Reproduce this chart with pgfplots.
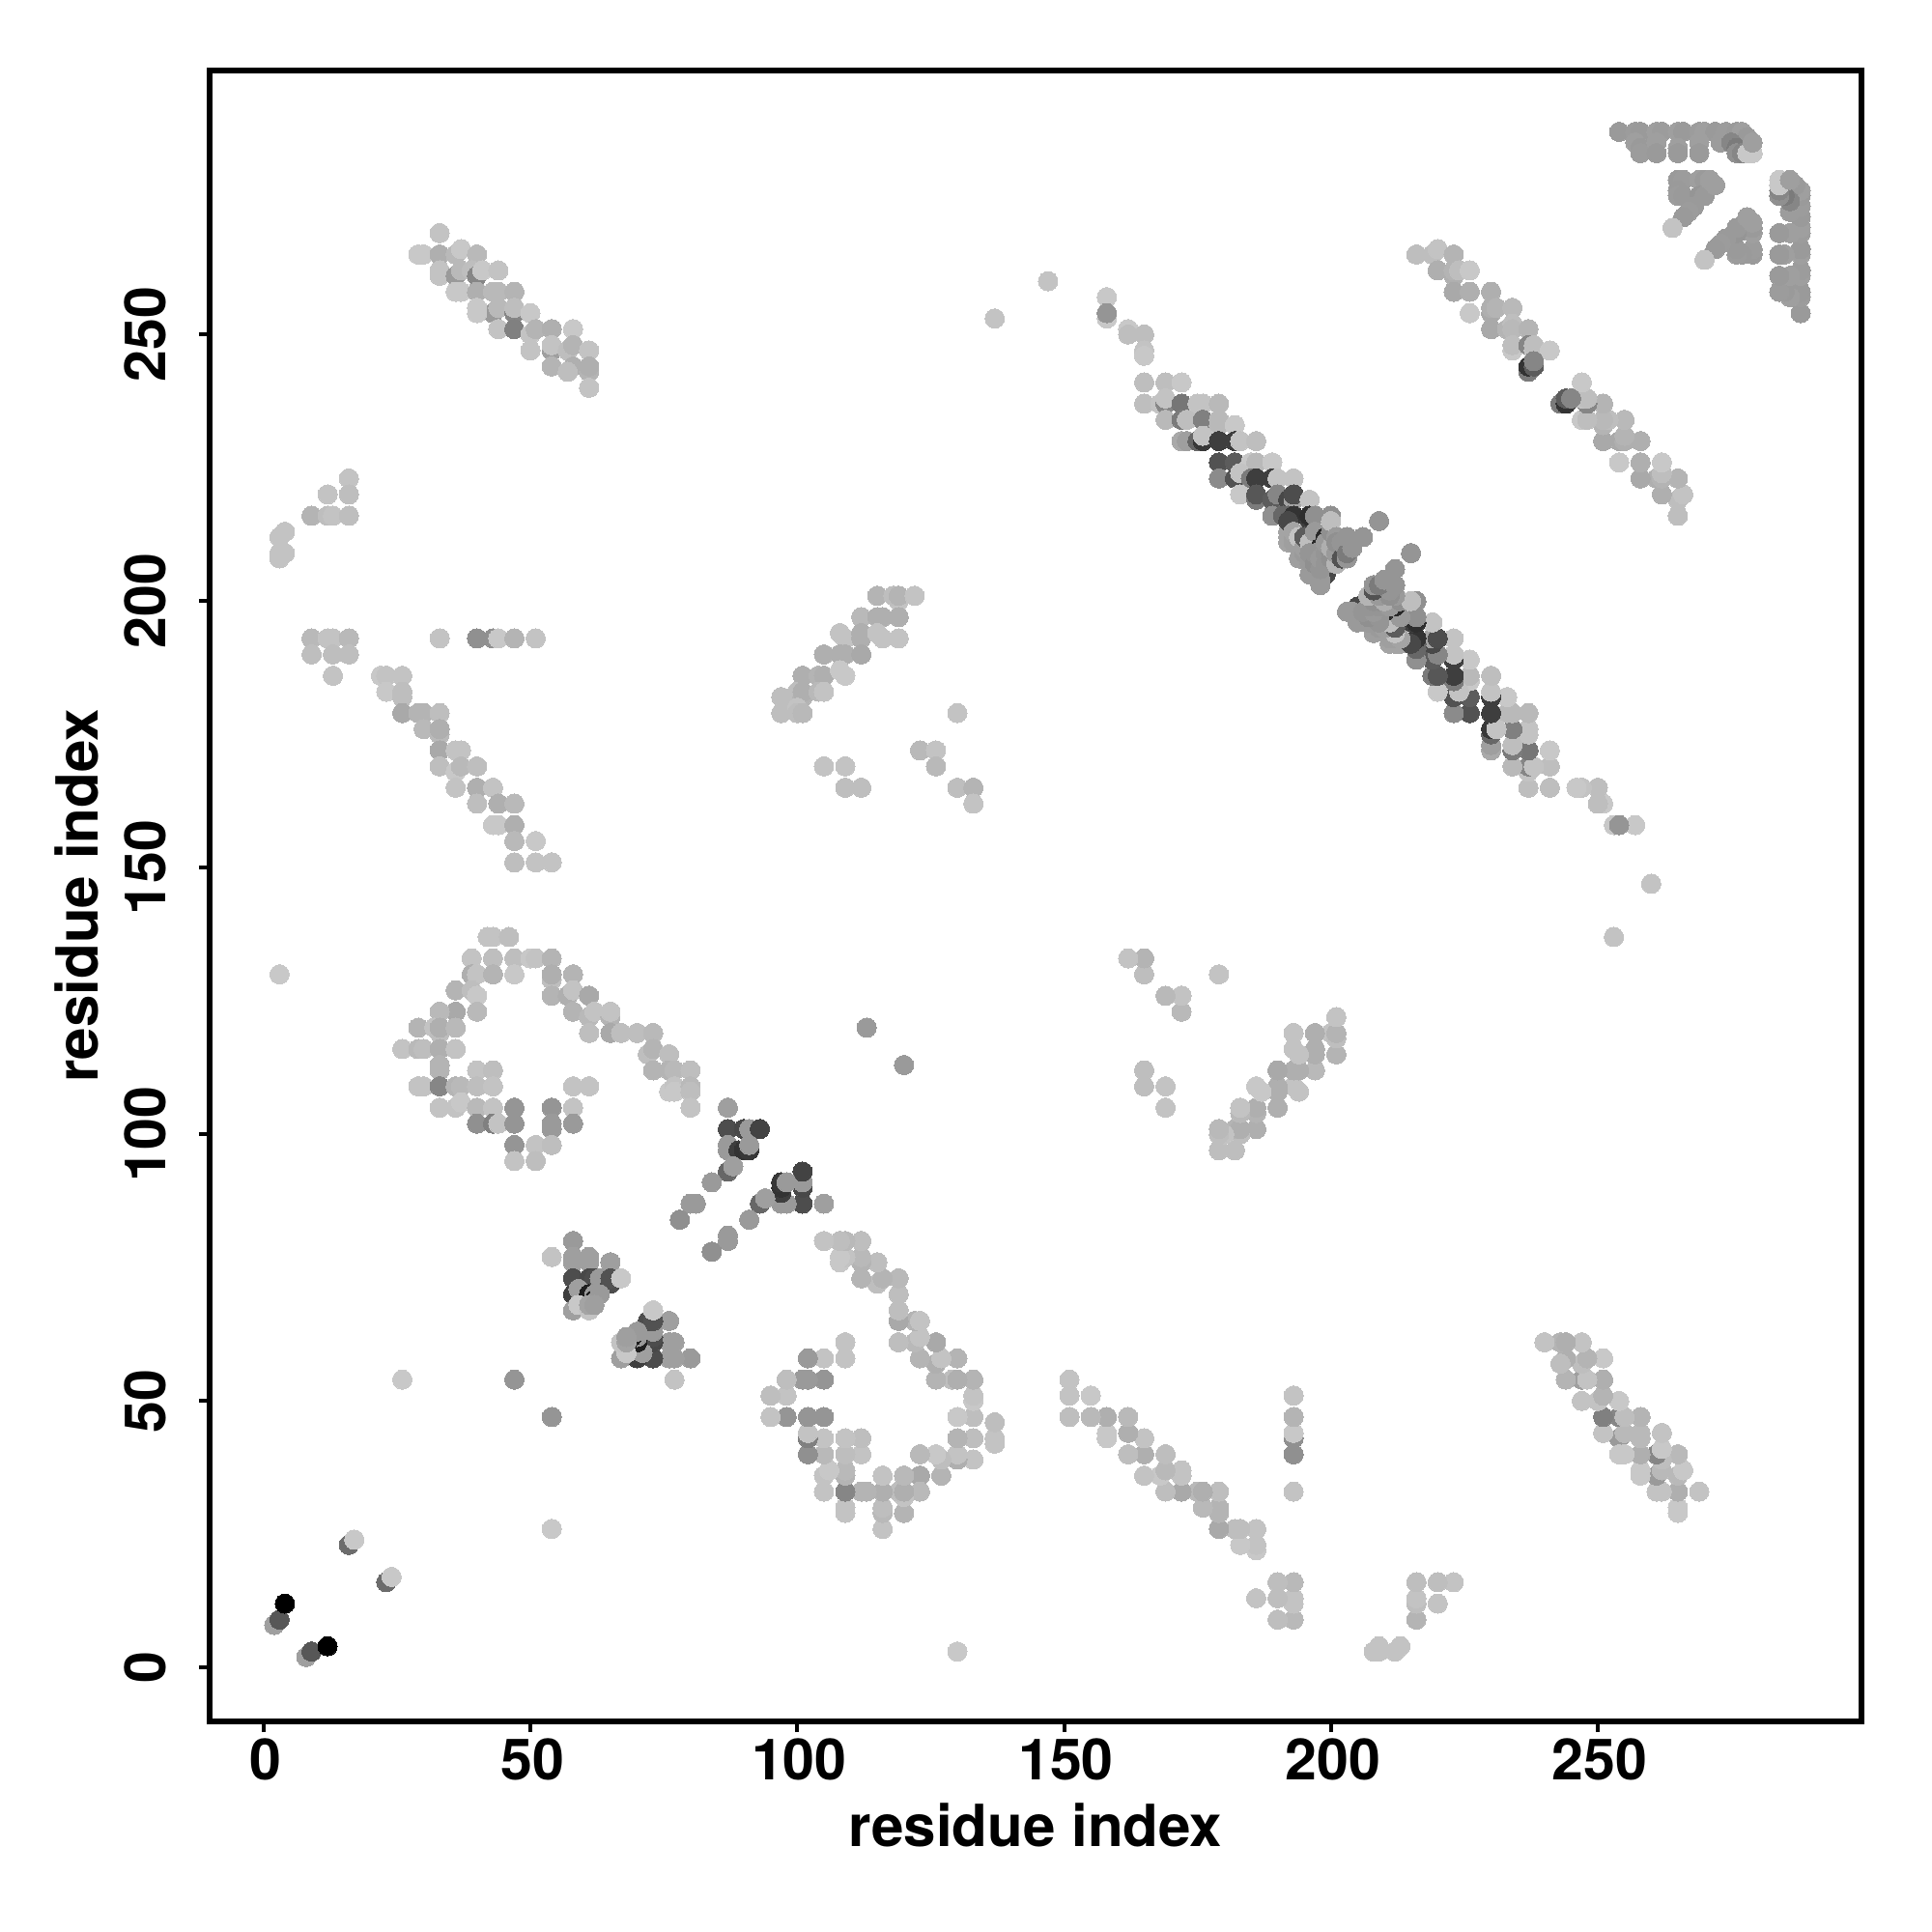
\documentclass[border=0pt]{standalone}
\usepackage{pgfplots}
\usepackage{pgfplotstable}
\usepackage{fontspec}
\setmainfont{TeX Gyre Heros}
\pgfplotsset{compat=1.18}
\pgfplotstableread{
a b g
2 8 155
3 9 85
4 12 0
16 23 105
17 24 195
33 269 190
29 265 195
30 265 195
33 265 170
36 265 180
37 266 195
40 265 180
33 262 190
33 261 190
36 261 150
37 262 180
39 262 185
40 261 130
41 262 195
44 262 190
36 258 195
37 258 195
40 258 170
43 258 180
44 258 180
47 258 175
43 254 150
44 255 180
47 254 130
47 255 185
40 255 195
40 254 195
44 251 190
47 251 125
50 254 195
50 250 190
51 251 175
50 247 190
54 251 170
54 247 155
54 248 190
54 244 175
58 251 195
57 247 185
58 248 175
58 244 170
57 243 185
61 247 190
61 243 175
61 244 170
61 240 190
16 223 190
16 220 185
12 220 190
9 216 175
12 216 185
13 216 190
16 216 185
3 212 190
4 213 190
3 208 190
3 209 190
4 209 190
9 193 180
12 193 190
13 193 190
16 193 180
9 190 185
13 190 185
16 190 185
13 186 190
33 193 190
40 193 140
43 193 140
44 193 195
47 193 175
51 193 190
22 186 195
23 186 190
26 186 190
23 183 195
26 183 185
26 182 185
26 179 165
29 179 175
30 179 175
33 179 185
30 176 180
33 175 180
33 176 170
33 172 165
36 172 190
37 172 190
33 169 185
36 168 195
37 169 180
40 169 185
36 165 190
40 165 170
43 165 190
40 162 185
44 162 170
47 162 180
43 158 195
44 158 195
47 158 170
47 155 180
51 155 195
47 151 185
51 151 190
54 151 190
42 137 190
43 137 190
46 137 185
39 133 190
43 133 185
47 133 185
50 133 195
51 133 190
54 133 175
39 130 170
40 130 190
43 130 175
47 130 195
54 129 185
54 130 170
58 130 175
36 127 175
39 127 185
40 126 195
54 126 175
57 126 170
58 127 190
61 126 165
40 123 180
36 123 165
33 123 180
58 123 175
61 122 180
62 123 190
65 122 175
65 123 190
29 120 175
32 120 190
33 119 185
33 120 170
36 120 180
61 119 185
65 119 165
67 119 185
70 119 185
73 119 180
26 116 190
29 116 180
30 116 185
33 116 170
36 116 190
72 115 185
73 116 175
76 115 185
33 113 175
33 112 175
40 112 190
43 112 185
73 112 175
76 112 175
77 112 180
80 112 185
29 109 190
30 109 190
33 109 130
36 109 175
37 109 180
40 109 185
43 109 190
58 109 190
61 109 190
76 108 195
77 109 190
77 108 195
80 109 180
80 108 185
80 105 190
33 105 190
36 105 190
37 106 195
40 105 180
43 105 190
47 105 145
54 105 145
58 105 190
40 102 140
43 102 125
44 102 190
47 102 145
54 102 150
54 101 150
58 102 150
47 98 145
51 98 190
54 98 185
47 95 190
51 95 185
87 105 155
87 101 75
90 101 70
91 101 150
93 101 65
87 98 150
87 97 150
89 97 60
90 97 50
91 97 55
91 98 150
87 93 100
88 94 155
84 91 150
80 87 150
81 87 150
78 84 140
58 80 150
54 77 190
58 77 155
58 76 155
61 77 155
61 76 155
65 76 155
58 73 75
61 73 70
62 73 75
63 73 150
65 72 75
65 73 80
67 73 195
58 70 60
59 71 155
61 70 30
62 70 150
62 69 30
63 70 150
58 67 155
59 68 195
61 67 190
61 68 160
62 68 155
119 200 190
115 201 175
118 201 185
119 201 175
122 201 190
112 197 180
115 197 170
116 197 170
119 197 170
108 194 190
109 193 190
112 194 170
112 193 170
115 194 190
116 193 190
119 193 190
105 190 170
108 190 170
109 190 170
112 190 165
101 186 170
104 186 175
105 186 170
108 187 195
109 186 195
97 182 185
100 183 185
101 182 175
101 183 170
104 183 180
105 183 190
97 179 185
100 180 190
100 179 185
101 179 180
130 179 190
123 172 180
126 172 190
126 169 180
105 169 190
109 169 190
109 165 185
112 165 185
130 165 185
133 165 175
133 162 190
113 120 150
3 130 195
26 54 195
47 54 145
137 253 190
147 260 190
158 257 195
158 253 195
158 254 145
162 251 195
162 250 185
165 250 185
165 247 190
165 246 195
165 241 185
169 241 185
172 241 195
165 237 185
168 237 190
169 237 130
169 238 190
172 237 115
175 237 190
176 237 190
179 237 180
169 234 180
172 234 120
173 234 185
176 234 125
179 233 180
179 234 180
182 233 195
172 230 165
173 230 155
175 230 100
176 230 55
176 231 190
179 230 60
182 230 60
183 230 190
186 230 185
179 226 80
182 226 90
185 226 195
186 226 180
189 226 195
179 223 135
182 223 80
183 224 190
185 223 120
186 223 60
189 223 60
190 223 190
193 223 190
183 220 195
186 219 120
186 220 85
189 219 90
190 220 130
192 219 70
193 219 160
193 220 75
196 219 190
189 216 140
191 216 100
192 216 100
193 216 50
196 215 60
196 216 45
197 216 140
200 216 140
209 215 145
192 211 160
192 212 160
192 213 160
192 215 70
193 211 155
193 212 155
193 213 160
194 208 155
194 212 190
195 208 155
195 209 150
195 210 155
195 212 90
196 207 150
196 211 185
197 205 150
197 208 150
197 210 185
197 213 150
198 207 40
198 209 40
198 210 40
199 205 70
199 208 40
199 212 40
200 212 40
196 205 150
196 209 145
197 206 150
197 207 140
197 209 145
198 203 150
198 204 150
198 206 145
198 208 150
199 207 145
199 209 145
199 211 150
200 208 140
200 209 140
200 210 170
200 213 140
200 215 185
201 207 175
201 209 150
201 212 150
201 211 140
202 208 80
203 208 145
202 211 145
203 209 120
204 210 145
203 212 145
206 212 145
216 265 185
219 265 185
220 266 190
223 265 175
220 262 170
223 261 170
223 262 175
224 262 185
226 262 195
223 258 165
226 258 170
230 258 170
226 254 195
230 254 165
230 255 170
231 255 175
234 255 180
230 251 165
233 251 175
234 252 185
234 251 180
237 251 175
234 247 195
234 248 185
237 248 130
238 247 190
238 248 185
241 247 195
237 243 120
237 244 50
238 244 90
238 245 130
254 288 150
257 288 152
258 288 150
261 288 155
262 288 152
265 288 155
266 288 150
269 288 152
270 288 155
272 288 150
274 288 152
276 288 150
277 288 155
278 287 150
257 286 155
258 285 150
258 284 152
261 286 155
261 284 150
265 285 155
265 284 150
269 286 155
269 284 150
273 286 152
275 286 130
276 285 120
276 284 140
277 284 130
278 284 195
279 284 195
279 286 155
265 279 150
266 279 152
265 277 150
265 276 152
266 276 150
269 279 155
270 279 150
269 276 145
270 276 150
271 279 155
272 278 155
268 274 150
267 273 152
266 272 150
264 270 190
}\pts
\begin{document}
\begin{tikzpicture}
\useasboundingbox (-2.17,-2.18) rectangle (17.83,17.82);
\begin{axis}[
  at={(0,0)}, anchor=south west,
  scale only axis, width=17.1cm, height=17.09cm,
  xmin=-10.1, xmax=299.4, ymin=-10.1, ymax=299.5,
  axis line style={line width=0.6mm, black},
  xtick={0,50,100,150,200,250}, ytick={0,50,100,150,200,250},
  tick style={line width=0.4mm, black},
  tick align=outside, tickpos=left, major tick length=1.1mm,
  /pgf/number format/assume math mode=true,
  ticklabel style={font=\fontsize{16.8}{18}\selectfont\bfseries},
  xticklabel style={yshift=0.06cm, xshift=0.02cm},
  yticklabel style={rotate=90, anchor=center, yshift=0.56cm},
  xlabel={residue index}, ylabel={residue index},
  label style={font=\fontsize{17.1}{19}\selectfont\bfseries},
  xlabel style={at={(axis description cs:0.5,0)}, anchor=center, yshift=-1.07cm},
  ylabel style={at={(axis description cs:0,0.5)}, anchor=center, yshift=1.38cm},
  colormap={gr}{gray(0cm)=(0); gray(255cm)=(1)},
  point meta min=0, point meta max=250,
  clip=false,
]
\addplot[scatter, only marks, mark=*, mark size=1.0mm, point meta=explicit,
  scatter/use mapped color={draw=mapped color, fill=mapped color}, mark options={line width=0pt}]
  table[x=a, y=b, meta=g] {\pts};
\addplot[scatter, only marks, mark=*, mark size=1.0mm, point meta=explicit,
  scatter/use mapped color={draw=mapped color, fill=mapped color}, mark options={line width=0pt}]
  table[x=b, y=a, meta=g] {\pts};
\end{axis}
\end{tikzpicture}
\end{document}
